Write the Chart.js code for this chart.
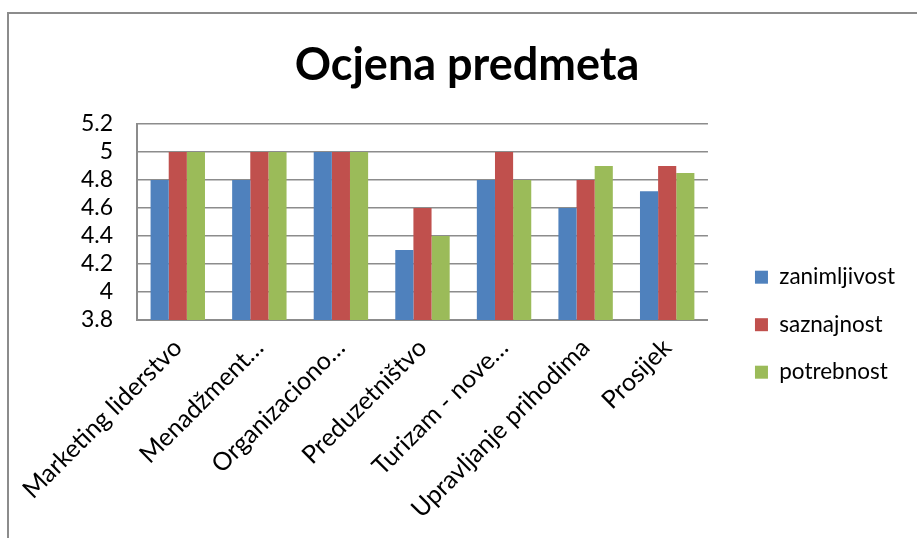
<!DOCTYPE html>
<html>
<head>
<meta charset="utf-8">
<script src="https://cdn.jsdelivr.net/npm/chart.js@4.4.1/dist/chart.umd.min.js"></script>
<style>
  html, body { margin: 0; padding: 0; background: #fff; overflow: hidden; }
  #wrap { position: relative; width: 917px; height: 538px; }
  #frame { position: absolute; left: 7px; top: 12px; width: 940px; height: 560px;
           border-left: 2px solid #8c8c8c; border-top: 2px solid #8c8c8c; pointer-events: none; }
  canvas { position: absolute; left: 0; top: 0; }
</style>
</head>
<body>
<div id="wrap">
  <canvas id="c" width="917" height="538"></canvas>
  <div id="frame"></div>
</div>
<script>
const chartTitle = 'Ocjena predmeta';
const categories = ['Marketing liderstvo', 'Menadžment…', 'Organizaciono…', 'Preduzetništvo', 'Turizam - nove…', 'Upravljanje prihodima', 'Prosijek'];
const seriesNames = ['zanimljivost', 'saznajnost', 'potrebnost'];
const zanimljivost = [4.8, 4.8, 5.0, 4.3, 4.8, 4.6, 4.72];
const saznajnost   = [5.0, 5.0, 5.0, 4.6, 5.0, 4.8, 4.9];
const potrebnost   = [5.0, 5.0, 5.0, 4.4, 4.8, 4.9, 4.85];
const yTickValues  = [3.8, 4.0, 4.2, 4.4, 4.6, 4.8, 5.0, 5.2];
const seriesColors = ['#4F81BD', '#C0504D', '#9BBB59'];

const FONT = 'Lato, "Open Sans", sans-serif';
const seriesValues = [zanimljivost, saznajnost, potrebnost];

new Chart(document.getElementById('c'), {
  type: 'bar',
  data: {
    labels: categories,
    datasets: seriesNames.map((n, i) => ({
      label: n,
      data: seriesValues[i],
      backgroundColor: seriesColors[i],
      borderWidth: 0,
      categoryPercentage: 0.667,
      barPercentage: 1.0
    }))
  },
  options: {
    responsive: false,
    animation: false,
    devicePixelRatio: 1,
    layout: { padding: { left: 29, right: 12, top: 0, bottom: 1 } },
    plugins: {
      title: {
        display: true,
        text: chartTitle,
        color: '#000',
        font: { family: FONT, size: 45, weight: 'bold' },
        padding: { top: 38, bottom: 32 }
      },
      legend: {
        position: 'right',
        align: 'center',
        maxWidth: 260,
        title: {
          display: true,
          text: ' ',
          font: { family: FONT, size: 2 },
          padding: { top: 110, bottom: 0 }
        },
        labels: {
          color: '#000',
          font: { family: FONT, size: 22.5 },
          boxWidth: 13,
          boxHeight: 13,
          padding: 25
        }
      },
      tooltip: { enabled: false }
    },
    scales: {
      x: {
        grid: { display: false, drawTicks: false },
        border: { display: true, color: '#8c8c8c', width: 2 },
        ticks: {
          color: '#000',
          font: { family: FONT, size: 25 },
          autoSkip: false,
          maxRotation: 45,
          minRotation: 45,
          padding: 13
        }
      },
      y: {
        min: 3.8,
        max: 5.2,
        afterBuildTicks: s => { s.ticks = yTickValues.map(v => ({ value: v })); },
        afterFit: s => { s.width = 108; },
        grid: { color: '#8c8c8c', lineWidth: 1.5, drawTicks: false },
        border: { display: true, color: '#8c8c8c', width: 2 },
        ticks: {
          color: '#000',
          font: { family: FONT, size: 23 },
          padding: 24,
          autoSkip: false,
          callback: v => String(Number(v.toFixed(1)))
        }
      },
      gap: {
        type: 'linear',
        position: 'right',
        display: true,
        grid: { display: false, drawTicks: false },
        border: { display: false },
        ticks: { display: false },
        afterFit: s => { s.width = 22; }
      }
    }
  }
});
</script>
</body>
</html>
